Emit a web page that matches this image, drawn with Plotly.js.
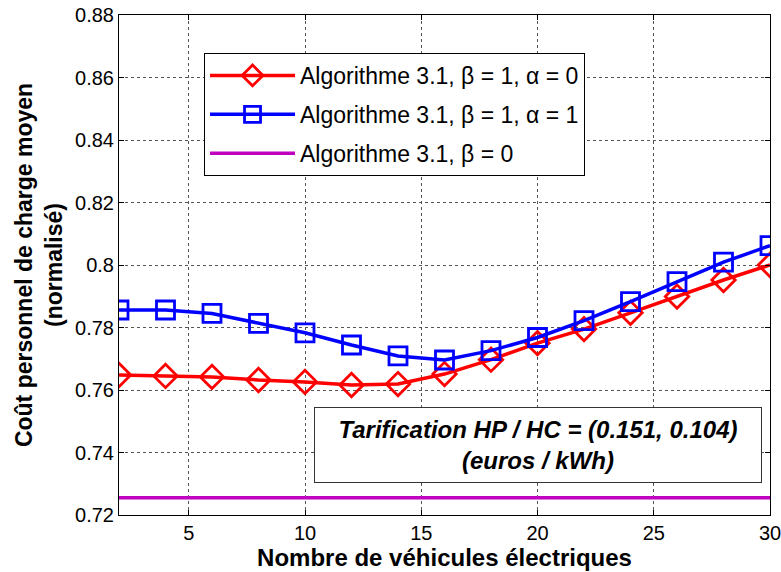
<!DOCTYPE html>
<html>
<head>
<meta charset="utf-8">
<script src="https://cdn.plot.ly/plotly-3.0.1.min.js"></script>
<style>html,body{margin:0;padding:0;background:#fff;}#chart{width:781px;height:572px;}</style>
</head>
<body>
<div id="chart"></div>
<script>
const vehicles = [2, 4, 6, 8, 10, 12, 14, 16, 18, 20, 22, 24, 26, 28, 30];
const algoBeta1Alpha0 = [0.7648, 0.7645, 0.7642, 0.7632, 0.7626, 0.7616, 0.7619, 0.7651, 0.7697, 0.7750, 0.7795, 0.7847, 0.7899, 0.7952, 0.8000];
const algoBeta1Alpha1 = [0.7856, 0.7856, 0.7845, 0.7813, 0.7783, 0.7744, 0.7709, 0.7696, 0.7726, 0.7768, 0.7822, 0.7883, 0.7947, 0.8009, 0.8062];
const algoBeta0 = [0.7255, 0.7255];
const algoBeta0X = [2, 30];
const yTickVals = [0.72, 0.74, 0.76, 0.78, 0.8, 0.82, 0.84, 0.86, 0.88];
const yTickText = ['0.72', '0.74', '0.76', '0.78', '0.8', '0.82', '0.84', '0.86', '0.88'];
const xTickVals = [5, 10, 15, 20, 25, 30];
const seriesNames = ['Algorithme 3.1, β = 1, α = 0', 'Algorithme 3.1, β = 1, α = 1', 'Algorithme 3.1, β = 0'];
const annotationText = '<b><i>Tarification HP / HC = (0.151, 0.104)<br>(euros / kWh)</i></b>';

const FONT = 'Liberation Sans, Arial, Helvetica, sans-serif';

const traces = [
  {
    x: vehicles, y: algoBeta1Alpha0, name: seriesNames[0], legendgroup: 'a',
    mode: 'lines+markers', type: 'scatter',
    line: {color: '#ff0000', width: 3.5},
    marker: {symbol: 'diamond-open', size: 18, color: '#ff0000', line: {color: '#ff0000', width: 2.8}}
  },
  {
    x: vehicles, y: algoBeta1Alpha1, name: seriesNames[1], legendgroup: 'b',
    mode: 'lines+markers', type: 'scatter',
    line: {color: '#0000ff', width: 3.5},
    marker: {symbol: 'square-open', size: 18, color: '#0000ff', line: {color: '#0000ff', width: 2.8}}
  },
  {
    x: algoBeta0X, y: algoBeta0, name: seriesNames[2], legendgroup: 'c',
    mode: 'lines', type: 'scatter',
    line: {color: '#bf00bf', width: 3.5}
  }
];

const axisCommon = {
  showline: true, linecolor: '#000', linewidth: 1, mirror: 'ticks',
  ticks: 'inside', ticklen: 5, tickcolor: '#000', tickwidth: 1,
  showgrid: true, gridcolor: '#555', griddash: 'dot', gridwidth: 1,
  zeroline: false,
  tickfont: {family: FONT, size: 20, color: '#000'}
};

const layout = {
  width: 781, height: 572,
  margin: {l: 119, r: 11, t: 15, b: 57},
  paper_bgcolor: '#fff', plot_bgcolor: '#fff',
  font: {family: FONT, color: '#000'},
  showlegend: true,
  xaxis: Object.assign({}, axisCommon, {
    range: [2, 30], tickvals: xTickVals, ticklabeloverflow: 'allow',
    title: {text: '<b>Nombre de véhicules électriques</b>', font: {family: FONT, size: 24, color: '#000'}, standoff: 0}
  }),
  yaxis: Object.assign({}, axisCommon, {
    range: [0.72, 0.88], tickvals: yTickVals, ticktext: yTickText,
    title: {text: '<b>Coût personnel de charge moyen<br>(normalisé)</b>', font: {family: FONT, size: 23, color: '#000'}, standoff: 6}
  }),
  legend: {
    x: 0.1306, y: 0.924, xanchor: 'left', yanchor: 'top',
    bgcolor: '#fff', bordercolor: '#000', borderwidth: 1,
    font: {family: FONT, size: 23, color: '#000'},
    traceorder: 'grouped', tracegroupgap: 6, itemwidth: 85
  },
  annotations: [{
    x: 20, y: 0.7424, xref: 'x', yref: 'y', showarrow: false,
    text: annotationText, width: 444, height: 72,
    font: {family: FONT, size: 24, color: '#000'},
    bgcolor: '#fff', bordercolor: '#333', borderwidth: 1, align: 'center'
  }]
};

Plotly.newPlot('chart', traces, layout, {displayModeBar: false, staticPlot: true});
</script>
</body>
</html>
